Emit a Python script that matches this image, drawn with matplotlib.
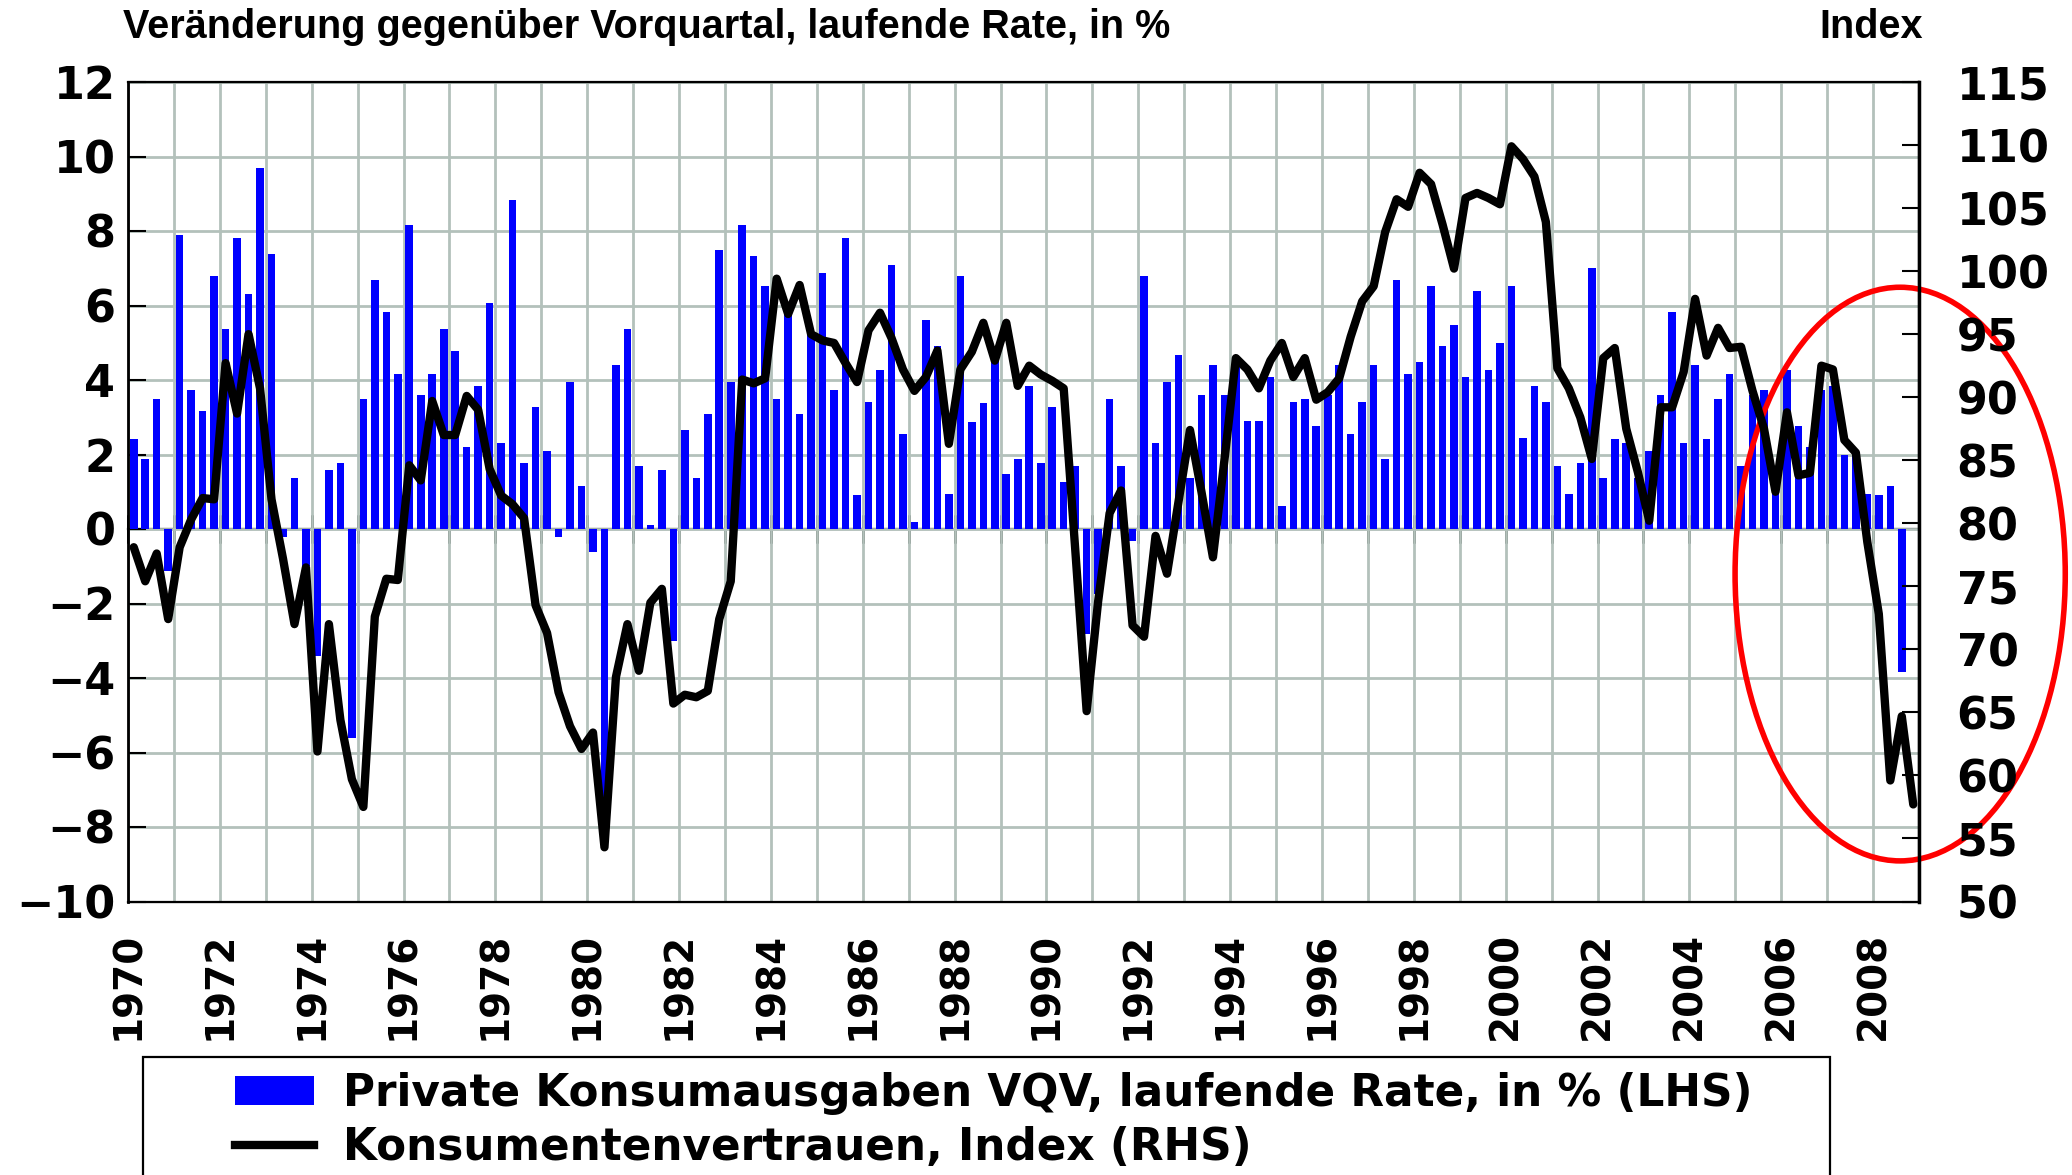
import matplotlib
matplotlib.use("Agg")
import matplotlib.pyplot as plt
import numpy as np
from matplotlib.patches import Ellipse, Patch, Rectangle
from matplotlib.lines import Line2D

# Quarterly data starting 1970 Q1
# Private Konsumausgaben VQV, laufende Rate, in % (1970Q1 .. 2008Q3)
konsum_vqv = [
    2.42, 1.88, 3.5, -1.12,      # 1970
    7.9, 3.72, 3.18, 6.78,       # 1971
    5.38, 7.8, 6.3, 9.68,        # 1972
    7.38, -0.22, 1.37, -1.0,     # 1973
    -3.4, 1.59, 1.78, -5.6,      # 1974
    3.5, 6.68, 5.82, 4.17,       # 1975
    8.16, 3.6, 4.17, 5.38,       # 1976
    4.78, 2.2, 3.85, 6.08,       # 1977
    2.32, 8.82, 1.78, 3.28,      # 1978
    2.1, -0.22, 3.95, 1.15,      # 1979
    -0.61, -8.6, 4.39, 5.38,     # 1980
    1.69, 0.1, 1.59, -3.0,       # 1981
    2.67, 1.37, 3.09, 7.48,      # 1982
    3.95, 8.16, 7.32, 6.52,      # 1983
    3.5, 5.8, 3.09, 5.2,         # 1984
    6.88, 3.72, 7.8, 0.92,       # 1985
    3.4, 4.27, 7.1, 2.55,        # 1986
    0.19, 5.6, 4.9, 0.93,        # 1987
    6.79, 2.87, 3.39, 4.65,      # 1988
    1.48, 1.88, 3.85, 1.78,      # 1989
    3.28, 1.27, 1.7, -2.81,      # 1990
    -1.75, 3.5, 1.7, -0.33,      # 1991
    6.78, 2.32, 3.95, 4.68,      # 1992
    1.38, 3.6, 4.39, 3.6,        # 1993
    4.4, 2.89, 2.89, 4.07,       # 1994
    0.61, 3.4, 3.5, 2.77,        # 1995
    3.6, 4.39, 2.55, 3.4,        # 1996
    4.39, 1.88, 6.68, 4.17,      # 1997
    4.49, 6.52, 4.9, 5.48,       # 1998
    4.07, 6.4, 4.27, 5.0,        # 1999
    6.52, 2.45, 3.85, 3.4,       # 2000
    1.69, 0.95, 1.78, 7.0,       # 2001
    1.37, 2.42, 2.32, 1.38,      # 2002
    2.1, 3.6, 5.82, 2.32,        # 2003
    4.39, 2.42, 3.5, 4.17,       # 2004
    1.69, 3.6, 3.72, 1.7,        # 2005
    4.27, 2.77, 2.2, 3.72,       # 2006
    3.85, 2.0, 2.0, 0.94,        # 2007
    0.92, 1.15, -3.83,           # 2008
]

# Konsumentenvertrauen, Index (1970Q1 .. 2008Q4)
vertrauen = [
    78.1, 75.4, 77.6, 72.4,      # 1970
    78.1, 80.3, 82.0, 81.9,      # 1971
    92.7, 88.7, 95.0, 90.7,      # 1972
    81.9, 77.2, 72.0, 76.5,      # 1973
    61.9, 72.0, 64.4, 59.7,      # 1974
    57.5, 72.6, 75.6, 75.5,      # 1975
    84.6, 83.4, 89.7, 87.0,      # 1976
    87.0, 90.1, 89.0, 84.3,      # 1977
    82.2, 81.5, 80.4, 73.5,      # 1978
    71.3, 66.6, 63.9, 62.1,      # 1979
    63.4, 54.3, 67.8, 72.0,      # 1980
    68.3, 73.7, 74.8, 65.7,      # 1981
    66.4, 66.2, 66.7, 72.4,      # 1982
    75.4, 91.4, 91.1, 91.5,      # 1983
    99.4, 96.6, 98.9, 95.0,      # 1984
    94.5, 94.3, 92.7, 91.2,      # 1985
    95.3, 96.7, 94.7, 92.2,      # 1986
    90.5, 91.6, 93.7, 86.3,      # 1987
    92.2, 93.6, 95.9, 92.9,      # 1988
    95.9, 90.9, 92.5, 91.8,      # 1989
    91.3, 90.7, 78.0, 65.1,      # 1990
    73.8, 80.8, 82.6, 71.9,      # 1991
    71.0, 79.0, 76.0, 81.7,      # 1992
    87.4, 82.5, 77.3, 85.0,      # 1993
    93.1, 92.2, 90.7, 92.9,      # 1994
    94.3, 91.6, 93.1, 89.8,      # 1995
    90.4, 91.5, 94.8, 97.6,      # 1996
    98.8, 103.1, 105.7, 105.1,   # 1997
    107.8, 106.9, 103.7, 100.2,  # 1998
    105.8, 106.2, 105.8, 105.3,  # 1999
    109.9, 108.9, 107.5, 103.9,  # 2000
    92.3, 90.7, 88.4, 85.1,      # 2001
    93.1, 93.9, 87.5, 84.1,      # 2002
    80.2, 89.2, 89.2, 92.0,      # 2003
    97.8, 93.3, 95.5, 93.9,      # 2004
    94.0, 90.5, 87.5, 82.5,      # 2005
    88.8, 83.8, 84.0, 92.5,      # 2006
    92.2, 86.6, 85.6, 78.5,      # 2007
    72.8, 59.6, 64.7, 57.7,      # 2008
]

year_start, year_end = 1970, 2009
lhs_ticks = np.arange(-10, 13, 2)
rhs_ticks = np.arange(50, 116, 5)

BLUE = "#0000ff"
GRID = "#b3c1bb"

W, H = 2072, 1175
plt.rcParams["font.family"] = ["DejaVu Sans"]
plt.rcParams["font.weight"] = "bold"

fig = plt.figure(figsize=(W / 100, H / 100), dpi=100)


def fx(px):
    return px / W


def fy(py):
    return 1 - py / H


ax = fig.add_axes([fx(128), fy(901.5), fx(1919) - fx(128), fy(82) - fy(901.5)])

# quarter centres
x_bar = year_start + (np.arange(len(konsum_vqv)) + 0.5) / 4
x_line = year_start + (np.arange(len(vertrauen)) + 0.5) / 4

ax.bar(x_bar, konsum_vqv, width=0.165, color=BLUE, zorder=2)

ax.set_xlim(year_start, year_end)
ax.set_ylim(-10, 12)
ax.set_yticks(lhs_ticks)
even_years = np.arange(year_start, year_end, 2)
ax.set_xticks(even_years)
ax.set_xticklabels([str(y) for y in even_years], rotation=90)
ax.set_xticks(np.arange(year_start, year_end + 1), minor=True)
ax.set_axisbelow(True)
ax.grid(axis="x", which="both", color=GRID, lw=2)
ax.grid(axis="y", which="major", color=GRID, lw=2)

ax.tick_params(axis="x", which="both", length=0, pad=22, labelsize=28)
ax.tick_params(axis="y", direction="in", length=13, width=1.5, pad=9, labelsize=32)
for side in ("left", "right", "top", "bottom"):
    ax.spines[side].set_color("black")
    ax.spines[side].set_linewidth(1.6)
ax.spines["left"].set_linewidth(2)

# zero line with year ticks
sec = ax.secondary_xaxis(10 / 22)
sec.set_xticks(np.arange(year_start, year_end + 1))
sec.tick_params(axis="x", direction="inout", length=20, width=2,
                labelbottom=False, labeltop=False, top=True, bottom=True)
for sp in sec.spines.values():
    sp.set_linewidth(1.6)

# red ellipse around the recent period
ax.add_patch(Ellipse((2008.59, -1.21), 7.19, 15.4, fill=False,
                     edgecolor="#ff0000", lw=4, clip_on=False, zorder=5))

ax2 = ax.twinx()
ax2.plot(x_line, vertrauen, color="black", lw=6, zorder=6,
         solid_joinstyle="round", solid_capstyle="round")
ax2.set_ylim(50, 115)
ax2.set_yticks(rhs_ticks)
ax2.tick_params(axis="y", direction="in", length=12, width=1.5, pad=27, labelsize=32)
ax2.spines["right"].set_linewidth(2.5)

fig.text(fx(123), fy(38), "Veränderung gegenüber Vorquartal, laufende Rate, in %",
         family="Liberation Sans", fontweight="bold", fontsize=28.5,
         ha="left", va="baseline")
fig.text(fx(1923), fy(38), "Index", family="Liberation Sans", fontweight="bold",
         fontsize=28.5, ha="right", va="baseline")

# legend box (bottom edge runs off the figure)
fig.add_artist(Rectangle((fx(143), fy(1200)), fx(1830) - fx(143), fy(1057) - fy(1200),
                         transform=fig.transFigure, fill=False,
                         edgecolor="black", lw=1.6))
handles = [
    Patch(facecolor=BLUE, edgecolor="none",
          label="Private Konsumausgaben VQV, laufende Rate, in % (LHS)"),
    Line2D([], [], color="black", lw=6,
           label="Konsumentenvertrauen, Index (RHS)"),
]
fs = 31.5
fig.legend(handles=handles, loc="upper left", bbox_to_anchor=(fx(235), fy(1072)),
           frameon=False, fontsize=fs, handlelength=57 / fs, handleheight=20 / fs,
           handletextpad=21 / fs, labelspacing=0.25, borderpad=0, borderaxespad=0)

fig.savefig("out.png", dpi=100)
